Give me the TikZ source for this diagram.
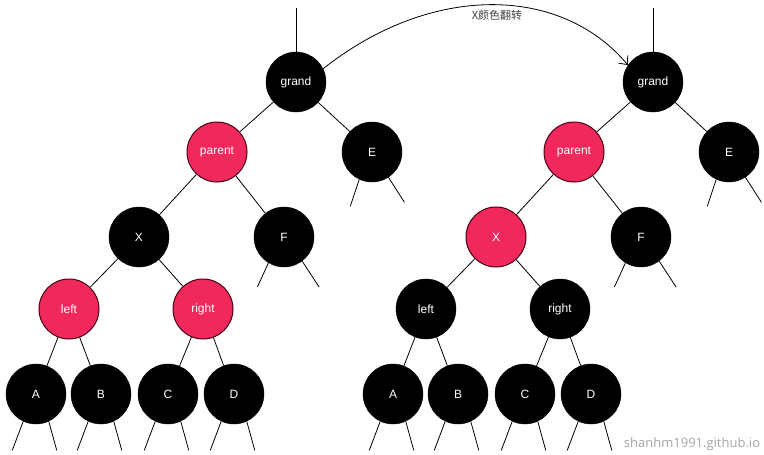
\documentclass[tikz,border=0pt]{standalone}
\usepackage{fontspec}
\setmainfont{Liberation Sans}
\newfontfamily\cjk{Noto Sans CJK SC}
\newfontfamily\wmfont{Open Sans}
\usetikzlibrary{arrows.meta}
\definecolor{rbred}{RGB}{240,40,92}
\definecolor{rbedge}{RGB}{70,0,20}
\tikzset{
  tnode/.style={circle,minimum size=60pt,inner sep=0pt,text=white,font=\fontsize{12}{14}\selectfont},
  blk/.style={tnode,fill=black,draw=black},
  red/.style={tnode,fill=rbred,draw=rbedge,line width=1pt},
  edge/.style={line width=0.8pt},
}
\newcommand\drawtree[6]{%
\begin{scope}[xshift=#2]
  \node[blk] (#1g) at (296,82) {grand};
  \node[#3] (#1p) at (217,152) {parent};
  \node[blk] (#1e) at (372,152) {E};
  \node[#4] (#1x) at (139,237) {X};
  \node[blk] (#1f) at (284,237) {F};
  \node[#5] (#1l) at (69,309) {left};
  \node[#6] (#1r) at (203,309) {right};
  \node[blk] (#1a) at (36,394) {A};
  \node[blk] (#1b) at (101,394) {B};
  \node[blk] (#1c) at (168,394) {C};
  \node[blk] (#1d) at (234,394) {D};
  \coordinate (#1top) at (296,8);
  \draw[edge] (#1top) -- (#1g);
  \draw[edge] (#1g) -- (#1p);
  \draw[edge] (#1g) -- (#1e);
  \draw[edge] (#1p) -- (#1x);
  \draw[edge] (#1p) -- (#1f);
  \draw[edge] (#1x) -- (#1l);
  \draw[edge] (#1x) -- (#1r);
  \draw[edge] (#1l) -- (#1a);
  \draw[edge] (#1l) -- (#1b);
  \draw[edge] (#1r) -- (#1c);
  \draw[edge] (#1r) -- (#1d);
  \draw[edge] (#1e.245) -- ++(-9,27);
  \draw[edge] (#1e.303) -- ++(16,25);
  \draw[edge] (#1f.239) -- ++(-11,24);
  \draw[edge] (#1f.307) -- ++(17,26);
  \foreach \n in {a,b,c,d}{
    \draw[edge] (#1\n.245) -- ++(-11,29);
    \draw[edge] (#1\n.295) -- ++(8,29);
  }
\end{scope}}
\begin{document}
\begin{tikzpicture}[x=1pt,y=-1pt]
  \useasboundingbox (0,0) rectangle (764,455);
  \drawtree{L}{0pt}{red}{blk}{red}{red}
  \drawtree{R}{357pt}{red}{red}{blk}{blk}
  \draw[edge,-{Straight Barb[length=7pt,width=12pt]}] (Lg.26) .. controls (430,-16) and (560,-16) .. (Rg.146);
  \node[font=\cjk\fontsize{11}{13}\selectfont,text=black!75,inner sep=0pt] (lab) at (497,15) {X颜色翻转};
  \node[font=\wmfont\fontsize{13}{15}\selectfont,text=black!35,inner sep=0pt] (wm) at (692,444) {shanhm1991.github.io};
\end{tikzpicture}
\end{document}
